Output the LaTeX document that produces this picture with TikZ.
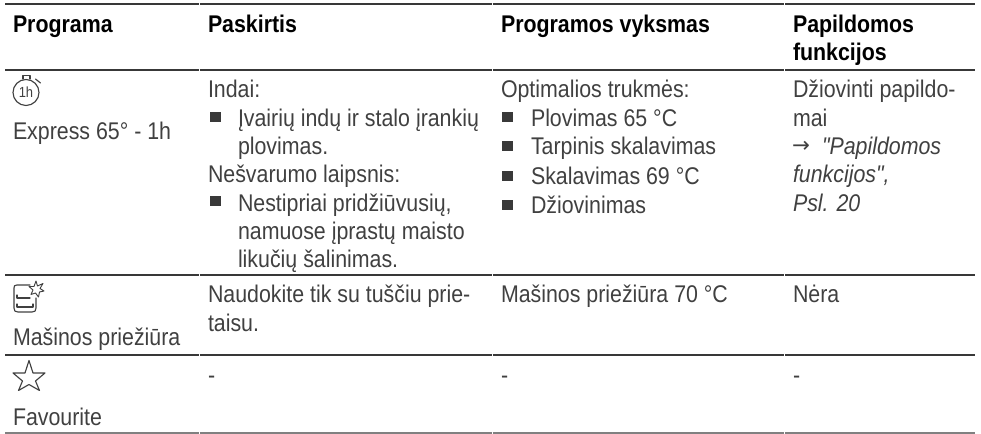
\documentclass[tikz,border=0pt]{standalone}
\usepackage{fontspec}
\setmainfont{Liberation Sans}[FakeStretch=0.885]
\newfontfamily\rawfont{Liberation Sans}[FakeStretch=0.885]
\newfontfamily\arrowfont{DejaVu Sans}
\definecolor{ink}{gray}{0.25}
\definecolor{rulec}{gray}{0.22}
\tikzset{
 x=0.75pt,y=-0.75pt,
 txt/.style={anchor=base west,inner sep=0,outer sep=0,text=ink,font=\fontsize{18.1pt}{21pt}\selectfont},
 head/.style={anchor=base west,inner sep=0,outer sep=0,text=black,font=\fontsize{18.1pt}{21pt}\selectfont\bfseries},
 bul/.style={fill=ink!90!black,draw=none,minimum size=8.2pt,inner sep=0,outer sep=0,anchor=center},
 hrule/.style={draw=rulec,line width=1.2pt},
 lastrule/.style={draw=gray,line width=0.8pt},
 iconl/.style={draw=ink,line width=0.85pt,line join=round,line cap=round,fill=none},
}
\begin{document}
\begin{tikzpicture}
\useasboundingbox (0,0) rectangle (981,434);
\foreach \y/\s in {4/hrule,70/hrule,275/hrule,355/hrule,433/lastrule}{
 \draw[\s] (5,\y) -- (198.5,\y);
 \draw[\s] (199.7,\y) -- (491.5,\y);
 \draw[\s] (492.7,\y) -- (784,\y);
 \draw[\s] (785.2,\y) -- (975,\y);
}
% header
\node[head] (h1) at (13,33) {Programa};
\node[head] (h2) at (208,33) {Paskirtis};
\node[head] (h3) at (501,33) {Programos vyksmas};
\node[head] (h4a) at (793,33) {Papildomos};
\node[head] (h4b) at (793,61) {funkcijos};
% col 1
\coordinate (ic1) at (26,92.5);
\draw[iconl] (ic1) circle (13);
\node[anchor=center,inner sep=0,text=ink,font=\fontsize{11pt}{12pt}\selectfont] (ic1t) at (26,92.5) {1h};
\draw[iconl] (23,79) -- (23,75.5) -- (30,75.5) -- (30,79);
\draw[iconl] (35.5,79) -- (40.5,83);
\node[txt] (c1) at (13,140) {Express 65° - 1h};
% machine care icon
\draw[iconl] (30,285) -- (17,285) .. controls (14.5,285) and (14,286) .. (14,288) -- (14,308) .. controls (14,311) and (15,312) .. (18,312) -- (32,312) .. controls (35,312) and (36,311) .. (36,308) -- (36,298);
\draw[iconl] (17,295) -- (17,298) -- (30,298);
\draw[iconl] (17,304) -- (17,307) -- (33,307) -- (33,304);
\draw[iconl,line width=0.7pt] (36,281) -- (37.5,286) -- (43,283.5) -- (40,288.5) -- (44,291) -- (39.5,292) -- (38.5,297) -- (35.5,293) -- (31,294.5) -- (33,290) -- (29,286.5) -- (34,286.5) -- cycle;
\node[txt] (c2) at (13,345) {Mašinos priežiūra};
% star icon
\draw[iconl] (29,360.5) -- (33,373) -- (45,373) -- (35.5,381) -- (39.5,390.5) -- (29,384.5) -- (18.5,390.5) -- (22.5,381) -- (13,373) -- (25,373) -- cycle;
\node[txt] (c3) at (13,425) {Favourite};
% col 2
\node[txt] (b1) at (208,98) {Indai:};
\node[bul] (b1m) at (215.5,117) {};
\node[txt] (b2) at (238,126.5) {Įvairių indų ir stalo įrankių};
\node[txt] (b3) at (238,155) {plovimas.};
\node[txt] (b4) at (208,183) {Nešvarumo laipsnis:};
\node[bul] (b5m) at (215.5,201) {};
\node[txt] (b5) at (238,212) {Nestipriai pridžiūvusių,};
\node[txt] (b6) at (238,240) {namuose įprastų maisto};
\node[txt] (b7) at (238,268) {likučių šalinimas.};
\node[txt] (b8) at (208,303) {Naudokite tik su tuščiu prie-};
\node[txt] (b9) at (208,332) {taisu.};
\node[txt] (b10) at (208,383) {-};
% col 3
\node[txt] (d1) at (501,98) {Optimalios trukmės:};
\node[bul] (d2m) at (507.5,117) {};
\node[txt] (d2) at (531,126.5) {Plovimas 65 °C};
\node[bul] (d3m) at (507.5,146) {};
\node[txt] (d3) at (531,155) {Tarpinis skalavimas};
\node[bul] (d4m) at (507.5,176) {};
\node[txt] (d4) at (531,185) {Skalavimas 69 °C};
\node[bul] (d5m) at (507.5,205) {};
\node[txt] (d5) at (531,214) {Džiovinimas};
\node[txt] (d6) at (501,303) {Mašinos priežiūra 70 °C};
\node[txt] (d7) at (501,383) {-};
% col 4
\node[txt] (e1) at (793,98) {Džiovinti papildo-};
\node[txt] (e2) at (793,126.5) {mai};
\node[txt] (e3) at (792,153) {{\arrowfont\fontsize{16pt}{18pt}\selectfont →}};
\node[txt] (e3b) at (822,155) {\rawfont\itshape "Papildomos};
\node[txt] (e4) at (793,183) {\rawfont\itshape funkcijos",};
\node[txt] (e5) at (793,212) {\itshape Psl. 20};
\node[txt] (e6) at (793,303) {Nėra};
\node[txt] (e7) at (793,383) {-};
\end{tikzpicture}
\end{document}
